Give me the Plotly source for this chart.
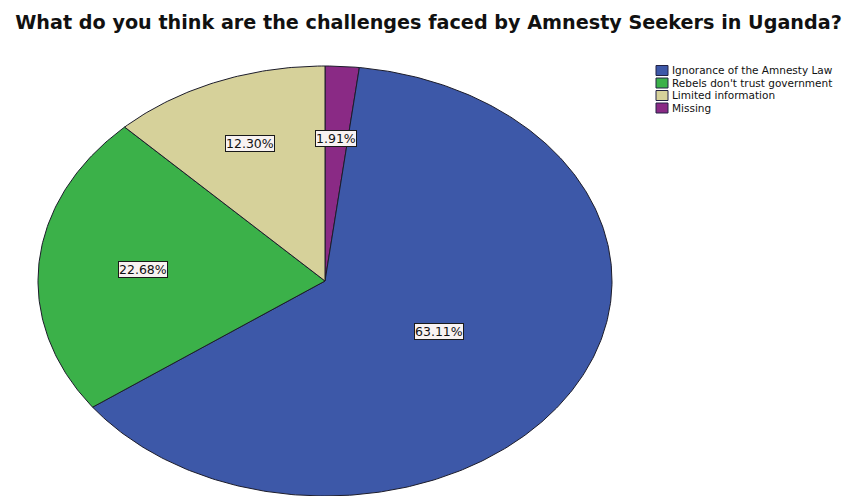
import numpy as np
import plotly.graph_objects as go

# Survey responses (percent of respondents)
categories = [
    "Ignorance of the Amnesty Law",
    "Rebels don't trust government",
    "Limited information",
    "Missing",
]
percentages = [63.11, 22.68, 12.30, 1.91]
label_texts = ["63.11%", "22.68%", "12.30%", "1.91%"]

# Styling
colors = ["#3d58a8", "#3bb149", "#d6d19a", "#8a2a85"]
draw_order = [3, 0, 1, 2]              # clockwise from 12 o'clock
label_radius = [0.46, 0.636, 0.69, 0.666]
FONT = "DejaVu Sans, Verdana, sans-serif"

W, H = 857, 496
CX, CY = 325, 281      # pie centre in pixels
RX, RY = 287, 215      # pie radii in pixels (elliptical SPSS-style pie)

fig = go.Figure()

total = sum(percentages)
start = 0.0
mid_angles = {}
for i in draw_order:
    sweep = percentages[i] / total * 2 * np.pi
    t = np.linspace(start, start + sweep, max(int(sweep * 80), 4))
    xs = np.concatenate([[0], np.sin(t), [0]])
    ys = np.concatenate([[0], np.cos(t), [0]])
    fig.add_trace(go.Scatter(
        x=xs, y=ys, mode="lines", fill="toself",
        fillcolor=colors[i],
        line=dict(color="#1c1c2a", width=1),
        name=categories[i], hoverinfo="name", showlegend=False,
    ))
    mid_angles[i] = start + sweep / 2
    start += sweep

# Percentage labels in boxes
for i in range(len(categories)):
    a = mid_angles[i]
    r = label_radius[i]
    fig.add_annotation(
        x=r * np.sin(a), y=r * np.cos(a), text=label_texts[i],
        showarrow=False, xref="x", yref="y",
        font=dict(family=FONT, size=12.5, color="#111111"),
        bgcolor="#f8f2f2", bordercolor="#1a1a1a", borderwidth=1, borderpad=0,
    )

# Legend drawn as swatches plus text (compact SPSS-style spacing)
leg_x0, leg_y0, leg_dy = 656, 70.5, 12.5
for k, name in enumerate(categories):
    yc = leg_y0 + k * leg_dy
    fig.add_shape(
        type="rect", xref="paper", yref="paper",
        x0=leg_x0 / W, x1=(leg_x0 + 12) / W,
        y0=1 - (yc + 5) / H, y1=1 - (yc - 5) / H,
        fillcolor=colors[k], line=dict(color="#222244", width=1),
    )
    fig.add_annotation(
        x=(leg_x0 + 14) / W, y=1 - yc / H, xref="paper", yref="paper",
        text=name, showarrow=False, xanchor="left", yanchor="middle",
        font=dict(family=FONT, size=10.5, color="#111111"),
    )

fig.update_layout(
    width=W, height=H,
    margin=dict(l=0, r=0, t=0, b=0),
    paper_bgcolor="white", plot_bgcolor="white",
    title=dict(
        text="<b>What do you think are the challenges faced by Amnesty Seekers in Uganda?</b>",
        x=0.5, xanchor="center", y=1 - 22 / H, yanchor="middle",
        font=dict(family=FONT, size=19.2, color="#111111"),
    ),
    xaxis=dict(range=[-CX / RX, (W - CX) / RX], visible=False, fixedrange=True),
    yaxis=dict(range=[-(H - CY) / RY, CY / RY], visible=False, fixedrange=True),
    showlegend=False,
)

fig.write_html("out.html")
